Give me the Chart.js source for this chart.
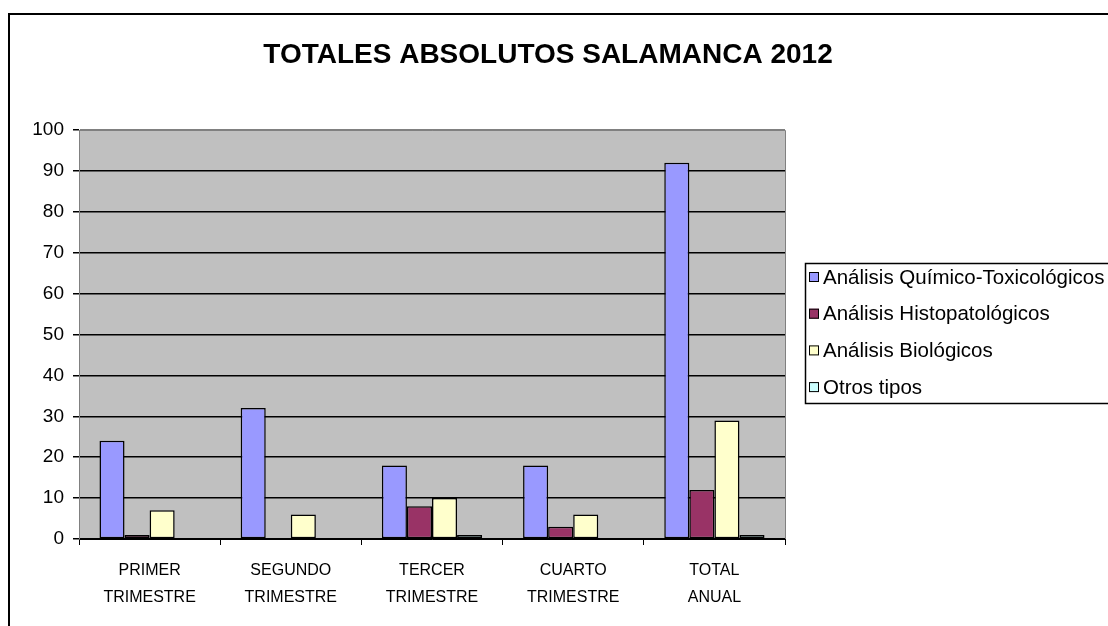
<!DOCTYPE html>
<html>
<head>
<meta charset="utf-8">
<script src="https://cdn.jsdelivr.net/npm/chart.js@4.4.1/dist/chart.umd.min.js"></script>
<style>
  html, body { margin: 0; padding: 0; background: #fff; }
  #wrap { width: 1108px; height: 626px; }
</style>
</head>
<body>
<div id="wrap"><canvas id="chart" width="1108" height="626"></canvas></div>
<script>
const title = 'TOTALES ABSOLUTOS SALAMANCA 2012';
const categories = [
  ['PRIMER', 'TRIMESTRE'],
  ['SEGUNDO', 'TRIMESTRE'],
  ['TERCER', 'TRIMESTRE'],
  ['CUARTO', 'TRIMESTRE'],
  ['TOTAL', 'ANUAL']
];
const seriesNames = ['Análisis Químico-Toxicológicos', 'Análisis Histopatológicos', 'Análisis Biológicos', 'Otros tipos'];
const quimico = [24, 32, 18, 18, 92];
const histo = [1, 0, 8, 3, 12];
const biologicos = [7, 6, 10, 6, 29];
const otros = [0, 0, 1, 0, 1];
const yTicks = [0, 10, 20, 30, 40, 50, 60, 70, 80, 90, 100];

const colors = ['#9999FF', '#993366', '#FFFFCC', '#CCFFFF'];
const FONT = '"Liberation Sans", Arial, sans-serif';

// frame, grey plot area, title and the legend box
const decor = {
  id: 'decor',
  beforeDraw(chart) {
    const c = chart.ctx, a = chart.chartArea;
    c.save();
    c.fillStyle = '#fff';
    c.fillRect(0, 0, chart.width, chart.height);
    c.fillStyle = '#C0C0C0';
    c.fillRect(a.left, a.top, a.right - a.left, a.bottom - a.top);
    c.restore();
  },
  afterDatasetsDraw(chart) {
    const c = chart.ctx, a = chart.chartArea;
    c.save();
    c.strokeStyle = '#808080';
    c.lineWidth = 1;
    c.beginPath();
    c.moveTo(a.left, a.top + 0.5);
    c.lineTo(a.right + 0.5, a.top + 0.5);
    c.lineTo(a.right + 0.5, a.bottom);
    c.stroke();

    // outer frame
    c.strokeStyle = '#000';
    c.lineWidth = 2;
    c.strokeRect(9, 14, 1300, 800);

    // title
    c.fillStyle = '#000';
    c.font = 'bold 28px ' + FONT;
    c.textAlign = 'center';
    c.textBaseline = 'middle';
    c.fillText(title, 548, 55);

    // legend
    c.lineWidth = 1.5;
    c.strokeRect(805.5, 263.5, 400, 140);
    c.font = '20.5px ' + FONT;
    c.textAlign = 'left';
    chart.data.datasets.forEach((ds, i) => {
      const y = 277 + i * 36.7;
      c.fillStyle = ds.backgroundColor;
      c.fillRect(809, y - 5, 10, 10);
      c.strokeStyle = '#000';
      c.lineWidth = 1;
      c.strokeRect(809.5, y - 4.5, 9, 9);
      c.fillStyle = '#000';
      c.fillText(ds.label, 823, y + 1);
    });
    c.restore();
  }
};

const series = [quimico, histo, biologicos, otros];

new Chart(document.getElementById('chart'), {
  type: 'bar',
  data: {
    labels: categories,
    datasets: series.map((d, i) => ({
      label: seriesNames[i],
      data: d,
      backgroundColor: colors[i],
      borderColor: '#000',
      borderWidth: ctx => (ctx.raw === 0 ? 0 : 1.5),
      borderSkipped: false,
      categoryPercentage: 0.71,
      barPercentage: 1.0
    }))
  },
  options: {
    responsive: false,
    animation: false,
    layout: { padding: { top: 130, right: 323, left: 0, bottom: 0 } },
    plugins: {
      legend: { display: false },
      title: { display: false },
      tooltip: { enabled: false }
    },
    scales: {
      x: {
        afterFit(s) { s.height = 87; },
        grid: {
          offset: true,
          drawOnChartArea: false,
          tickLength: 6,
          color: '#000'
        },
        border: { color: '#000', width: 1 },
        ticks: {
          color: '#000',
          padding: 12,
          maxRotation: 0,
          font: { family: FONT, size: 16, lineHeight: 1.7 }
        }
      },
      y: {
        min: 0,
        max: 100,
        afterFit(s) { s.width = 79; },
        afterBuildTicks(s) { s.ticks = yTicks.map(v => ({ value: v })); },
        grid: {
          color: ctx => (ctx.tick && ctx.tick.value === 100 ? '#808080' : '#000'),
          lineWidth: 1.5,
          tickColor: '#000',
          tickLength: 6
        },
        border: { color: '#808080', width: 1 },
        ticks: {
          color: '#000',
          padding: 9,
          font: { family: FONT, size: 19 }
        }
      }
    }
  },
  plugins: [decor]
});
</script>
</body>
</html>
